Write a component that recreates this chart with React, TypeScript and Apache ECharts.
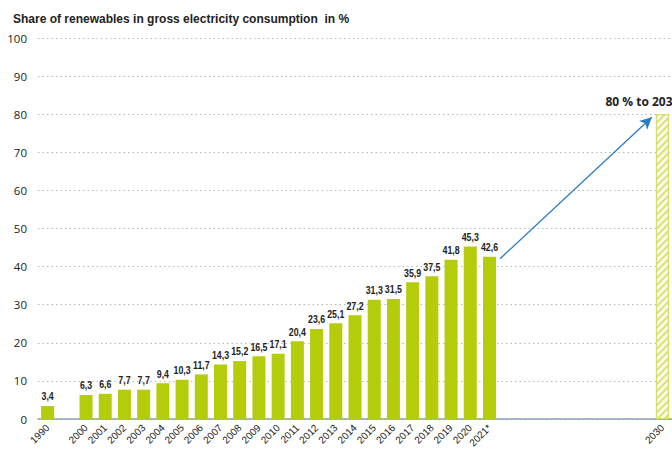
import React, { useEffect, useRef } from "react";
import * as echarts from "echarts";

const titleText = "Share of renewables in gross electricity consumption  in %";
const years = ["1990", "", "2000", "2001", "2002", "2003", "2004", "2005", "2006", "2007", "2008", "2009", "2010", "2011", "2012", "2013", "2014", "2015", "2016", "2017", "2018", "2019", "2020", "2021*", "", "", "", "", "", "", "", "", "2030"];
const shares: (number | null)[] = [3.4, null, 6.3, 6.6, 7.7, 7.7, 9.4, 10.3, 11.7, 14.3, 15.2, 16.5, 17.1, 20.4, 23.6, 25.1, 27.2, 31.3, 31.5, 35.9, 37.5, 41.8, 45.3, 42.6, null, null, null, null, null, null, null, null, null];
const targetYear = "2030";
const targetValue = 80;
const targetLabel = "80 % to 2030";
const yTicks = [0, 10, 20, 30, 40, 50, 60, 70, 80, 90, 100];

export default function App() {
  const ref = useRef<HTMLDivElement>(null);
  useEffect(() => {
    document.body.style.margin = "0";
    const chart = echarts.init(ref.current!, null, { renderer: "svg" });
    const targetIdx = years.indexOf(targetYear);
    const lastIdx = years.indexOf("2021*");
    const data: any[] = years.map((y, i) => {
      if (i === targetIdx) {
        return {
          value: targetValue,
          itemStyle: {
            color: "#fbfce8",
            borderColor: "#d4de6a",
            borderWidth: 1,
            decal: {
              symbol: "rect",
              dashArrayX: [1, 0],
              dashArrayY: [2, 3],
              rotation: -Math.PI / 4,
              color: "#d8e27a",
            },
          },
          label: {
            show: true,
            position: "top",
            formatter: targetLabel,
            fontSize: 12,
            fontWeight: "bold",
            color: "#222",
            offset: [-20, -2],
            fontFamily: "'Open Sans', sans-serif",
          },
        };
      }
      return shares[i] == null ? "-" : shares[i];
    });
    const labelData: any[] = [];
    shares.forEach((v, i) => {
      if (v != null) labelData.push([i, v, String(v).replace(".", ",")]);
    });
    const option: any = {
      animation: false,
      title: {
        text: titleText,
        left: 8,
        top: 8,
        textStyle: { fontSize: 12, fontWeight: "bold", color: "#222", fontFamily: "'Liberation Sans', Arial, sans-serif" },
      },
      grid: { left: 38, right: -6, top: 38, bottom: 32, containLabel: false },
      xAxis: {
        type: "category",
        data: years,
        axisLine: { lineStyle: { color: "#8aa0bc", width: 1.5 } },
        axisTick: { show: false },
        axisLabel: {
          interval: 0,
          rotate: 45,
          fontSize: 10,
          color: "#222",
          margin: 7,
          fontFamily: "'Liberation Sans', sans-serif",
        },
      },
      yAxis: {
        type: "value",
        min: yTicks[0],
        max: yTicks[yTicks.length - 1],
        interval: 10,
        axisLine: { show: false },
        axisTick: { show: false },
        axisLabel: { fontSize: 11.5, color: "#222", margin: 11, fontFamily: "'Open Sans', sans-serif" },
        splitLine: { lineStyle: { color: "#b8b8b8", type: [1.5, 3], width: 1 } },
      },
      series: [
        {
          type: "bar",
          data,
          barWidth: 13,
          itemStyle: { color: "#b5cc0a" },
          label: { show: false },
        },
        {
          type: "custom",
          data: labelData,
          silent: true,
          z: 5,
          renderItem: (params: any, api: any) => {
            const pt = api.coord([api.value(0), api.value(1)]);
            return {
              type: "text",
              x: pt[0],
              y: pt[1] - 4,
              scaleX: 0.8,
              style: {
                text: labelData[params.dataIndex][2],
                align: "center",
                verticalAlign: "bottom",
                fontSize: 11,
                fontWeight: "bold",
                fontFamily: "'Liberation Sans', Arial, sans-serif",
                fill: "#222",
              },
            };
          },
        },
      ],
    };
    chart.setOption(option);
    const p1 = chart.convertToPixel({ seriesIndex: 0 }, [lastIdx, shares[lastIdx] as number]) as number[];
    const p2 = chart.convertToPixel({ seriesIndex: 0 }, [targetIdx, targetValue]) as number[];
    const slot = (p2[0] - p1[0]) / (targetIdx - lastIdx);
    chart.setOption({
      series: [
        {
          markLine: {
            silent: true,
            symbol: ["none", "arrow"],
            symbolSize: [9, 12],
            label: { show: false },
            lineStyle: { color: "#2b7bbf", width: 1.3, type: "solid" },
            data: [
              [
                { x: p1[0] + slot * 0.55, y: p1[1] + 2 },
                { x: p2[0] - slot * 0.55, y: p2[1] + 3 },
              ],
            ],
          },
        },
      ],
    });
    return () => chart.dispose();
  }, []);
  return <div ref={ref} style={{ width: 672, height: 451, position: "absolute", left: 0, top: 0 }} />;
}
